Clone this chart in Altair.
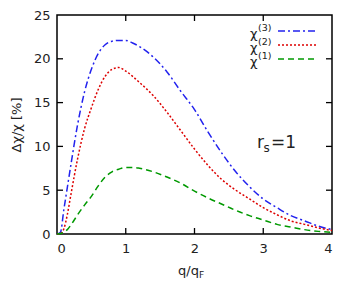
import altair as alt
import pandas as pd

q = [0, 0.05, 0.1, 0.15, 0.2, 0.3, 0.4, 0.5, 0.6, 0.7, 0.8, 0.9, 1.0, 1.1, 1.2,
     1.4, 1.6, 1.8, 2.0, 2.2, 2.4, 2.6, 2.8, 3.0, 3.2, 3.4, 3.6, 3.8, 4.0]
chi3 = [0, 0.2, 2.8, 5.3, 7.8, 12.5, 16.2, 18.8, 20.6, 21.6, 22.0, 22.1, 22.1, 21.8, 21.4,
        20.2, 18.5, 16.3, 14.2, 11.6, 9.2, 7.1, 5.4, 4.0, 3.0, 2.1, 1.5, 0.9, 0.5]
chi2 = [0, 0.05, 0.6, 2.2, 4.4, 8.6, 12.0, 14.4, 16.5, 18.0, 18.8, 19.0, 18.6, 18.0, 17.3,
        15.8, 13.9, 11.8, 9.7, 7.8, 6.2, 5.0, 4.0, 3.0, 2.2, 1.5, 1.1, 0.7, 0.4]
chi1 = [0, 0.05, 0.2, 0.5, 1.0, 2.2, 3.3, 4.3, 5.5, 6.5, 7.1, 7.4, 7.6, 7.6, 7.5,
        7.1, 6.5, 5.8, 4.9, 4.1, 3.4, 2.7, 2.1, 1.6, 1.1, 0.8, 0.5, 0.3, 0.2]

series_names = ["χ(3)", "χ(2)", "χ(1)"]
series_sup = ["(3)", "(2)", "(1)"]
series_colors = ["#2222ee", "#dd0000", "#009900"]
series_dash = [[7, 3, 2, 3], [2, 2], [6, 4]]
x_ticks = [0, 1, 2, 3, 4]
y_ticks = [0, 5, 10, 15, 20, 25]

W, H = 275, 219
FONT = "DejaVu Sans"
TXT = "#222222"

rows = []
for name, vals in zip(series_names, [chi3, chi2, chi1]):
    for a, b in zip(q, vals):
        rows.append({"q": a, "v": b, "s": name})
df = pd.DataFrame(rows)

xs = alt.Scale(domain=[0, 4], nice=False, zero=False)
ys = alt.Scale(domain=[0, 25], nice=False, zero=False)

layers = []
for name, col, dash in zip(series_names, series_colors, series_dash):
    layers.append(
        alt.Chart(df[df.s == name]).mark_line(color=col, strokeDash=dash, strokeWidth=1.5,
                                              interpolate="monotone")
        .encode(
            x=alt.X("q:Q", scale=xs, axis=alt.Axis(values=x_ticks, format="d", ticks=False, domain=False,
                                                  grid=False, labelFontSize=13, labelPadding=8, title=None,
                                                  labelFont=FONT, labelColor=TXT)),
            y=alt.Y("v:Q", scale=ys, axis=alt.Axis(values=y_ticks, format="d", ticks=False, domain=False,
                                                  grid=False, labelFontSize=13, labelPadding=7, title=None,
                                                  labelFont=FONT, labelColor=TXT)),
        )
    )

# inward ticks (mirrored on all sides)
xt = pd.DataFrame({"t": x_ticks[1:-1]})
yt = pd.DataFrame({"t": y_ticks[1:-1]})
tk = 6
layers.append(alt.Chart(xt).mark_rule(color="black", strokeWidth=1.3).encode(
    x=alt.X("t:Q", scale=xs), y=alt.value(H), y2=alt.value(H - tk)))
layers.append(alt.Chart(xt).mark_rule(color="black", strokeWidth=1.3).encode(
    x=alt.X("t:Q", scale=xs), y=alt.value(0), y2=alt.value(tk)))
layers.append(alt.Chart(yt).mark_rule(color="black", strokeWidth=1.3).encode(
    y=alt.Y("t:Q", scale=ys), x=alt.value(0), x2=alt.value(tk)))
layers.append(alt.Chart(yt).mark_rule(color="black", strokeWidth=1.3).encode(
    y=alt.Y("t:Q", scale=ys), x=alt.value(W - tk), x2=alt.value(W)))

# legend (labels left of the line samples)
base = alt.Chart(pd.DataFrame({"a": [0]}))
for i, (sup, col, dash) in enumerate(zip(series_sup, series_colors, series_dash)):
    yy = 16 + i * 14
    layers.append(base.mark_text(text="χ", align="left", baseline="middle", fontSize=13,
                                 font=FONT, color=TXT).encode(x=alt.value(193), y=alt.value(yy + 3)))
    layers.append(base.mark_text(text=sup, align="left", baseline="middle", fontSize=9.5,
                                 font=FONT, color=TXT).encode(x=alt.value(201), y=alt.value(yy - 3)))
    layers.append(base.mark_rule(color=col, strokeDash=dash, strokeWidth=1.5).encode(
        x=alt.value(221), x2=alt.value(259), y=alt.value(yy)))

# r_s = 1 annotation
layers.append(base.mark_text(text="r", align="left", baseline="alphabetic", fontSize=17,
                             font=FONT, color=TXT).encode(x=alt.value(200), y=alt.value(133)))
layers.append(base.mark_text(text="s", align="left", baseline="alphabetic", fontSize=12,
                             font=FONT, color=TXT).encode(x=alt.value(206.5), y=alt.value(137)))
layers.append(base.mark_text(text="=1", align="left", baseline="alphabetic", fontSize=17,
                             font=FONT, color=TXT).encode(x=alt.value(214), y=alt.value(133)))

# axis titles
layers.append(base.mark_text(text="q/q", align="right", baseline="alphabetic", fontSize=13,
                             font=FONT, color=TXT).encode(x=alt.value(142), y=alt.value(H + 41)))
layers.append(base.mark_text(text="F", align="left", baseline="alphabetic", fontSize=9,
                             font=FONT, color=TXT).encode(x=alt.value(142), y=alt.value(H + 44)))
layers.append(base.mark_text(text="Δχ/χ [%]", align="center", baseline="middle", fontSize=13, angle=270,
                             font=FONT, color=TXT).encode(x=alt.value(-40), y=alt.value(110)))

chart = alt.layer(*layers).properties(
    width=W, height=H,
    background="white",
    autosize=alt.AutoSizeParams(type="none"),
    padding={"left": 49, "top": 7, "right": 16, "bottom": 53},
).configure_view(stroke="black", strokeWidth=1.5)

chart.save("out.html", embed_options={"renderer": "svg", "actions": False})
